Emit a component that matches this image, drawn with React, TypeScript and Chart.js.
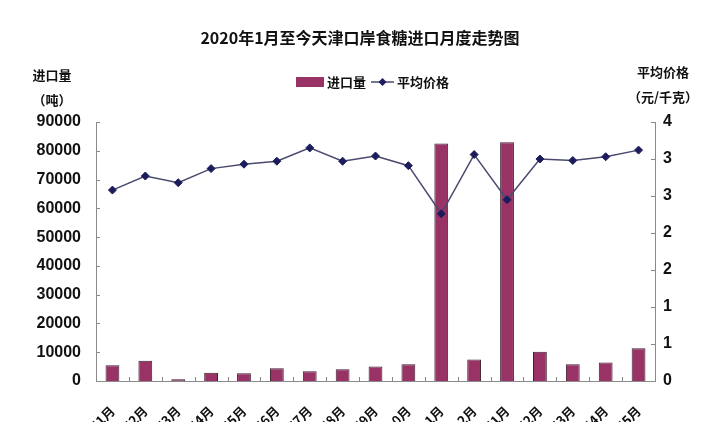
import React, { useEffect, useRef } from 'react';
import { Chart, registerables } from 'chart.js';

Chart.register(...registerables);

const TITLE = '2020年1月至今天津口岸食糖进口月度走势图';

const months = [
  '2020年1月', '2020年2月', '2020年3月', '2020年4月', '2020年5月', '2020年6月',
  '2020年7月', '2020年8月', '2020年9月', '2020年10月', '2020年11月', '2020年12月',
  '2021年1月', '2021年2月', '2021年3月', '2021年4月', '2021年5月',
];

// 进口量（吨）
const importVolume = [5500, 7000, 600, 2900, 2700, 4400, 3400, 4100, 5000, 5800, 82500, 7500, 83000, 10200, 5800, 6400, 11400];

// 平均价格（元/千克）
const avgPrice = [2.58, 2.77, 2.68, 2.87, 2.93, 2.97, 3.15, 2.97, 3.04, 2.91, 2.26, 3.06, 2.45, 3.0, 2.98, 3.03, 3.12];

const BAR_COLOR = '#993366';
const LINE_COLOR = '#4a4a6e';
const MARK_COLOR = '#1c1c5c';
const AXIS_COLOR = '#8a8a8a';
const NUM_FONT = '"Liberation Sans Narrow", "Liberation Sans", Arial, sans-serif';
const CJK_FONT = '"Noto Sans CJK SC", sans-serif';

// title, legend, axis captions and inward tick marks
const decorations = {
  id: 'decorations',
  afterDraw(chart: Chart) {
    const { ctx, chartArea } = chart;
    const { left, right, bottom } = chartArea;
    ctx.save();
    ctx.fillStyle = '#111';
    ctx.textBaseline = 'middle';
    ctx.textAlign = 'center';

    ctx.font = `bold 16px ${CJK_FONT}`;
    ctx.fillText(TITLE, chart.width / 2, 38);

    ctx.font = `bold 13px ${CJK_FONT}`;
    ctx.fillText('进口量', left - 44, 75);
    ctx.fillText('（吨）', left - 44, 100);
    ctx.fillText('平均价格', right + 8, 72);
    ctx.fillText('（元/千克）', right + 8, 97);

    // legend
    const ly = 82;
    ctx.fillStyle = BAR_COLOR;
    ctx.fillRect(296, ly - 5, 28, 10);
    ctx.fillStyle = '#111';
    ctx.textAlign = 'left';
    ctx.fillText('进口量', 327, ly);
    ctx.strokeStyle = LINE_COLOR;
    ctx.lineWidth = 1.5;
    ctx.beginPath();
    ctx.moveTo(371, ly);
    ctx.lineTo(394, ly);
    ctx.stroke();
    ctx.fillStyle = MARK_COLOR;
    ctx.beginPath();
    ctx.moveTo(382.5, ly - 4);
    ctx.lineTo(386.5, ly);
    ctx.lineTo(382.5, ly + 4);
    ctx.lineTo(378.5, ly);
    ctx.closePath();
    ctx.fill();
    ctx.fillStyle = '#111';
    ctx.fillText('平均价格', 397, ly);

    // inward tick marks
    ctx.strokeStyle = AXIS_COLOR;
    ctx.lineWidth = 1;
    const yL = chart.scales.y;
    yL.ticks.forEach((t) => {
      const py = Math.round(yL.getPixelForValue(t.value)) + 0.5;
      ctx.beginPath();
      ctx.moveTo(left, py);
      ctx.lineTo(left + 4, py);
      ctx.stroke();
    });
    const yR = chart.scales.y1;
    yR.ticks.forEach((t) => {
      const py = Math.round(yR.getPixelForValue(t.value)) + 0.5;
      ctx.beginPath();
      ctx.moveTo(right - 4, py);
      ctx.lineTo(right, py);
      ctx.stroke();
    });
    const n = months.length;
    const w = (right - left) / n;
    for (let i = 1; i < n; i++) {
      const px = Math.round(left + i * w) + 0.5;
      ctx.beginPath();
      ctx.moveTo(px, bottom);
      ctx.lineTo(px, bottom - 4);
      ctx.stroke();
    }
    ctx.restore();
  },
};

const App: React.FC = () => {
  const canvasRef = useRef<HTMLCanvasElement | null>(null);
  const chartRef = useRef<Chart | null>(null);

  useEffect(() => {
    document.body.style.margin = '0';
    const canvas = canvasRef.current;
    if (!canvas) return;
    const ctx = canvas.getContext('2d');
    if (!ctx) return;
    if (chartRef.current) chartRef.current.destroy();

    chartRef.current = new Chart(ctx, {
      type: 'bar',
      data: {
        labels: months,
        datasets: [
          {
            type: 'line',
            label: '平均价格',
            data: avgPrice,
            yAxisID: 'y1',
            borderColor: LINE_COLOR,
            borderWidth: 1.5,
            pointStyle: 'rectRot',
            pointRadius: 4,
            pointBackgroundColor: MARK_COLOR,
            pointBorderColor: MARK_COLOR,
            pointBorderWidth: 1,
            tension: 0,
            order: 0,
          },
          {
            type: 'bar',
            label: '进口量',
            data: importVolume,
            yAxisID: 'y',
            backgroundColor: BAR_COLOR,
            borderColor: '#3a2030',
            borderWidth: 1,
            barPercentage: 0.42,
            categoryPercentage: 1,
            order: 1,
          },
        ],
      },
      options: {
        responsive: true,
        maintainAspectRatio: false,
        animation: false,
        layout: { padding: { top: 122, left: 0, right: 0, bottom: 0 } },
        plugins: {
          legend: { display: false },
          title: { display: false },
          tooltip: { enabled: false },
        },
        scales: {
          x: {
            grid: { display: false, drawTicks: false, offset: true },
            border: { display: true, color: AXIS_COLOR },
            ticks: {
              autoSkip: false,
              maxRotation: 45,
              minRotation: 45,
              padding: 22,
              color: '#111',
              font: { family: CJK_FONT, size: 13, weight: 'bold' },
            },
            afterFit: (scale) => {
              scale.height = 89;
            },
          },
          y: {
            position: 'left',
            min: 0,
            max: 90000,
            grid: { display: false, drawTicks: false },
            border: { display: true, color: AXIS_COLOR },
            ticks: {
              stepSize: 10000,
              padding: 15,
              color: '#111',
              font: { family: NUM_FONT, size: 16, weight: 'bold' },
              callback: (v) => String(v),
            },
            afterFit: (scale) => {
              scale.width = 96;
            },
          },
          y1: {
            position: 'right',
            min: 0,
            max: 3.5,
            grid: { display: false, drawTicks: false },
            border: { display: true, color: AXIS_COLOR },
            ticks: {
              stepSize: 0.5,
              padding: 8,
              color: '#111',
              font: { family: NUM_FONT, size: 16, weight: 'bold' },
              callback: (v) => String(Math.round(Number(v))),
            },
            afterFit: (scale) => {
              scale.width = 65;
            },
          },
        },
      },
      plugins: [decorations],
    });

    return () => {
      if (chartRef.current) chartRef.current.destroy();
      chartRef.current = null;
    };
  }, []);

  return (
    <div style={{ width: '720px', height: '422px', overflow: 'hidden', background: '#fff', position: 'relative' }}>
      <div style={{ width: '720px', height: '470px', position: 'relative' }}>
        <canvas ref={canvasRef}></canvas>
      </div>
    </div>
  );
};

export default App;
